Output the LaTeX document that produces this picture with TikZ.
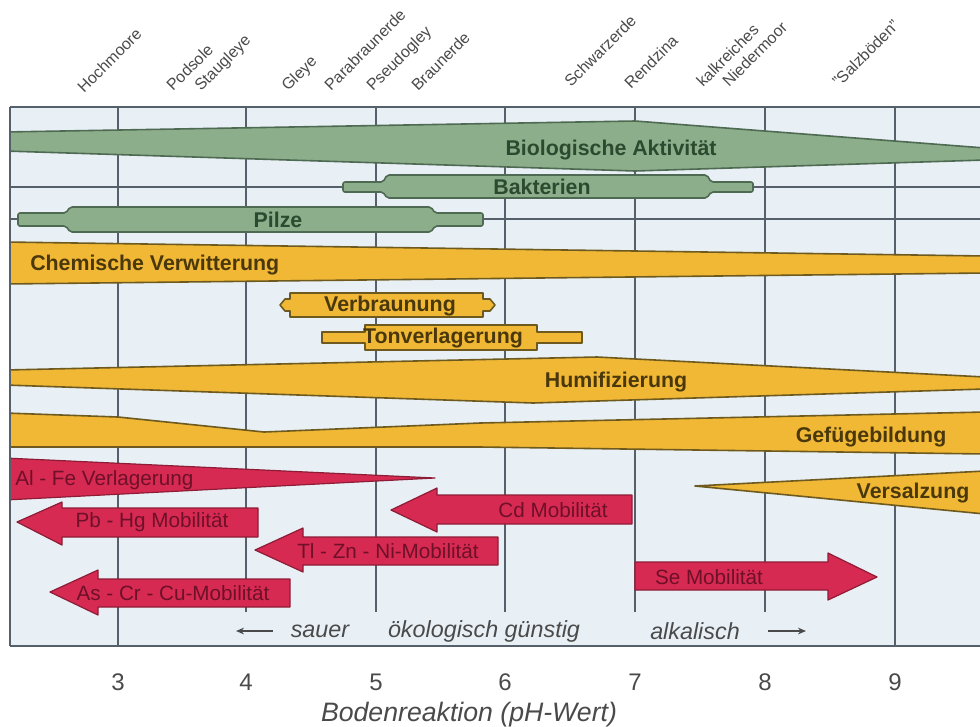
\documentclass[tikz,border=0pt]{standalone}
\usepackage{fontspec}
\setmainfont{Liberation Sans}
\usetikzlibrary{arrows.meta}

\definecolor{panelbg}{HTML}{E8F0F6}
\definecolor{gridc}{HTML}{56606A}
\definecolor{greenfill}{HTML}{8DAE8A}
\definecolor{greenline}{HTML}{4E6A52}
\definecolor{greentext}{HTML}{2C4A30}
\definecolor{yellowfill}{HTML}{F0B834}
\definecolor{yellowline}{HTML}{6E5A1E}
\definecolor{yellowtext}{HTML}{4A380C}
\definecolor{redfill}{HTML}{D62A52}
\definecolor{redline}{HTML}{8E1C36}
\definecolor{redtext}{HTML}{6E1028}
\definecolor{labelc}{HTML}{4A4A4A}

\tikzset{
  greenband/.style={fill=greenfill, draw=greenline, line width=1.2pt, line join=round},
  yellowband/.style={fill=yellowfill, draw=yellowline, line width=1.2pt, line join=round},
  redband/.style={fill=redfill, draw=redline, line width=0.9pt, line join=round},
  gtext/.style={text=greentext, font=\fontsize{16}{18}\selectfont\bfseries, inner sep=0pt},
  ytext/.style={text=yellowtext, font=\fontsize{16}{18}\selectfont\bfseries, inner sep=0pt},
  rtext/.style={text=redtext, font=\fontsize{15.5}{18}\selectfont, inner sep=0pt},
  soil/.style={text=labelc, font=\fontsize{12}{14}\selectfont, rotate=45, anchor=base west, inner sep=0pt},
  gridline/.style={draw=gridc, line width=1.4pt},
  rowline/.style={draw=gridc, line width=1.1pt},
  axistext/.style={text=labelc, font=\fontsize{17.5}{20}\selectfont\itshape, inner sep=0pt},
  phlabel/.style={text=labelc, font=\fontsize{18}{20}\selectfont, inner sep=0pt},
  dirarrow/.style={draw=labelc, line width=1.1pt, -{Stealth[length=6pt,width=5pt]}},
}

\begin{document}
\begin{tikzpicture}[x=0.75pt, y=-0.75pt]
\useasboundingbox (0,0) rectangle (980,726);

% chart panel
\fill[panelbg] (10,107) rectangle (980,646);

% pH grid lines
\foreach \gx in {246,376,505,635,765} \draw[gridline] (\gx,107) -- (\gx,612);
\foreach \gx in {118,895} \draw[gridline] (\gx,107) -- (\gx,646);

% row guide lines for Bakterien and Pilze
\draw[rowline] (10,187) -- (980,187);
\draw[rowline] (10,219) -- (980,219);

\begin{scope}
\clip (10,107) rectangle (980,646);

% biological bands
\draw[greenband] (5,132) -- (635,121) -- (985,148) -- (985,160) -- (635,171) -- (5,151) -- cycle;
\draw[greenband, rounded corners=1.5pt] (343,182) -- (383,182) -- (387,175) -- (707,175) -- (711,182) -- (753,182)
   -- (753,192) -- (711,192) -- (707,198) -- (387,198) -- (383,192) -- (343,192) -- cycle;
\draw[greenband, rounded corners=1.5pt] (18,213) -- (66,213) -- (70,207) -- (431,207) -- (435,213) -- (483,213)
   -- (483,226) -- (435,226) -- (431,232) -- (70,232) -- (66,226) -- (18,226) -- cycle;

% weathering and soil-forming processes
\draw[yellowband] (5,242) -- (985,256) -- (985,273) -- (5,284) -- cycle;
\draw[yellowband] (280,305) -- (285,299) -- (290,299) -- (290,293) -- (483,293) -- (483,299) -- (490,299)
   -- (495,305) -- (490,311) -- (483,311) -- (483,317) -- (290,317) -- (290,311) -- (285,311) -- cycle;
\draw[yellowband] (322,332) -- (365,332) -- (365,325) -- (537,325) -- (537,332) -- (582,332)
   -- (582,343) -- (537,343) -- (537,350) -- (365,350) -- (365,343) -- (322,343) -- cycle;
\draw[yellowband] (5,370) -- (597,357) -- (985,377) -- (985,389) -- (533,403) -- (5,385) -- cycle;
\draw[yellowband] (5,413) -- (118,417) -- (264,432) -- (480,423) -- (985,412) -- (985,454) -- (480,447) -- (5,447) -- cycle;
\draw[yellowband] (695,486) -- (985,471) -- (985,514) -- cycle;

% element mobility
\draw[redband] (5,458) -- (435,478) -- (5,500) -- cycle;
\draw[redband] (17,522) -- (62,502) -- (62,508) -- (258,508) -- (258,537) -- (62,537) -- (62,545) -- cycle;
\draw[redband] (391,510) -- (437,488) -- (437,495) -- (632,495) -- (632,524) -- (437,524) -- (437,532) -- cycle;
\draw[redband] (255,550) -- (303,528) -- (303,537) -- (498,537) -- (498,565) -- (303,565) -- (303,572) -- cycle;
\draw[redband] (50,592) -- (98,570) -- (98,579) -- (290,579) -- (290,607) -- (98,607) -- (98,615) -- cycle;
\draw[redband] (635,562) -- (828,562) -- (828,553) -- (877,577) -- (828,600) -- (828,590) -- (635,590) -- cycle;
\end{scope}

% band labels
\node[gtext] (bio) at (611,150) {Biologische Aktivität};
\node[gtext] (bak) at (542,187) {Bakterien};
\node[gtext] (pil) at (278,220) {Pilze};
\node[ytext, anchor=west] (chem) at (30,265) {Chemische Verwitterung};
\node[ytext] (verb) at (390,306) {Verbraunung};
\node[ytext] (ton) at (443,338) {Tonverlagerung};
\node[ytext] (humi) at (616,382) {Humifizierung};
\node[ytext] (gef) at (871,437) {Gefügebildung};
\node[ytext] (vers) at (913,493) {Versalzung};
\node[rtext, anchor=west] (alfe) at (15,480) {Al - Fe Verlagerung};
\node[rtext] (pbhg) at (152,522) {Pb - Hg Mobilität};
\node[rtext] (cd) at (553,510) {Cd Mobilität};
\node[rtext] (tlzn) at (388,551) {Tl - Zn - Ni-Mobilität};
\node[rtext] (ascr) at (173,593) {As - Cr - Cu-Mobilität};
\node[rtext] (se) at (709,577) {Se Mobilität};

% acidity scale words
\node[axistext] (sauer) at (320,631) {sauer};
\node[axistext] (oeko) at (484,631) {ökologisch günstig};
\node[axistext] (alk) at (695,631) {alkalisch};
\coordinate (sauerA) at (273,631);
\coordinate (sauerB) at (236,631);
\coordinate (alkA) at (768,631);
\coordinate (alkB) at (806,631);
\draw[dirarrow] (sauerA) -- (sauerB);
\draw[dirarrow] (alkA) -- (alkB);

% panel borders
\draw[draw=gridc, line width=2.2pt] (10,107) -- (980,107);
\draw[draw=gridc, line width=2.2pt] (10,646) -- (980,646);
\draw[draw=gridc, line width=1.4pt] (10,107) -- (10,646);

% pH axis
\foreach \gx/\ph in {118/3,246/4,376/5,505/6,635/7,765/8,895/9}
  \node[phlabel] (ph\ph) at (\gx,682) {\ph};
\node[text=labelc, font=\fontsize{20}{22}\selectfont\itshape, inner sep=0pt] (axis) at (469,715) {Bodenreaktion (pH-Wert)};

% soil types
\node[soil] (s1) at (84,94) {Hochmoore};
\node[soil] (s2) at (173,92) {Podsole};
\node[soil] (s3) at (201,92) {Staugleye};
\node[soil] (s4) at (288,92) {Gleye};
\node[soil] (s5) at (331,92) {Parabraunerde};
\node[soil] (s6) at (373,92) {Pseudogley};
\node[soil] (s7) at (418,92) {Braunerde};
\node[soil] (s8) at (571,88) {Schwarzerde};
\node[soil] (s9) at (631,90) {Rendzina};
\node[soil] (s10) at (703,88) {kalkreiches};
\node[soil] (s11) at (729,88) {Niedermoor};
\node[soil] (s12) at (839,88) {"Salzböden"};
\end{tikzpicture}
\end{document}
